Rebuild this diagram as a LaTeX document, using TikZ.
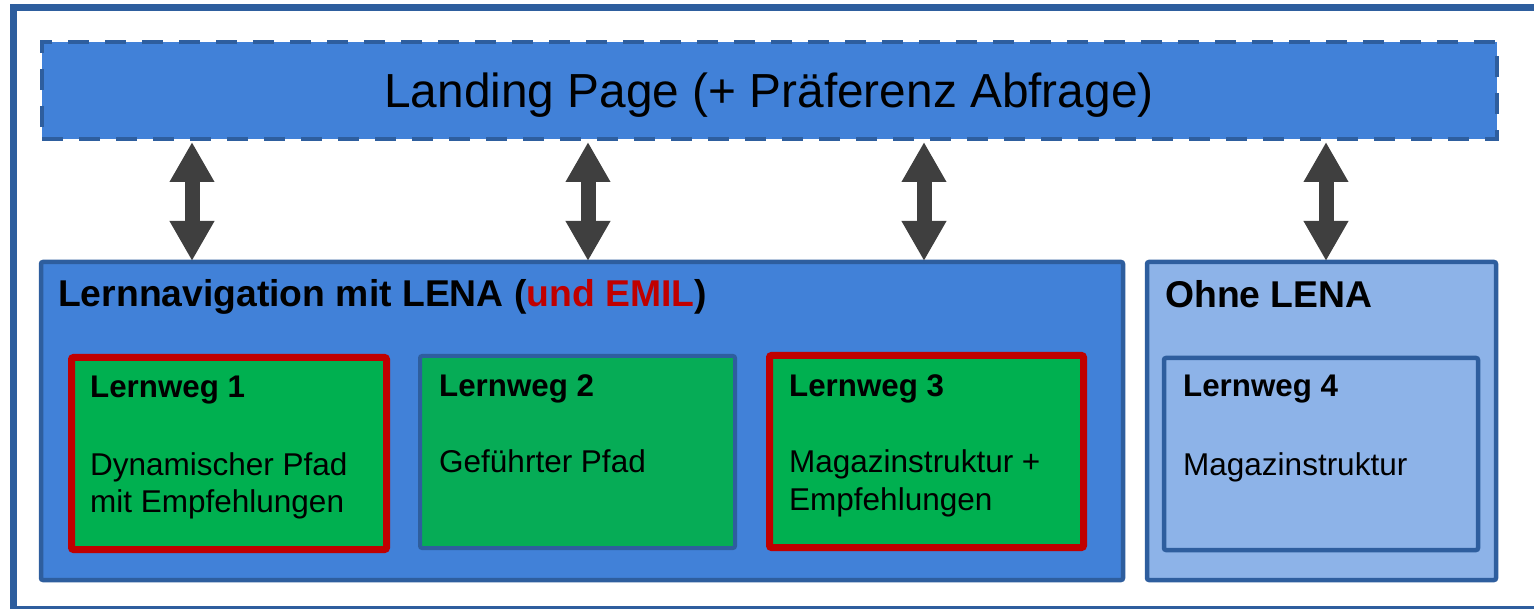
\documentclass[tikz,border=0pt]{standalone}
\usepackage{fontspec}
\setmainfont{Liberation Sans}
\usetikzlibrary{arrows.meta}
\definecolor{frameblue}{HTML}{2E5E9E}
\definecolor{midblue}{HTML}{4181D8}
\definecolor{lightblue}{HTML}{8DB3E8}
\definecolor{lwgreen}{HTML}{00B050}
\definecolor{lwgreenb}{HTML}{06AC56}
\definecolor{lwred}{HTML}{C00000}
\definecolor{arrowgray}{HTML}{3F3F3F}
\tikzset{
  box/.style={anchor=north west, inner sep=0pt, outer sep=0pt, rounded corners=2pt},
  txt/.style={anchor=base west, inner sep=0pt, text=black},
  bigtitle/.style={txt, font=\fontsize{47.8}{56}\selectfont},
  grouptitle/.style={txt, font=\fontsize{37.3}{42}\selectfont\bfseries},
  lwtitle/.style={txt, font=\fontsize{31.3}{37}\selectfont\bfseries},
  lwbody/.style={txt, font=\fontsize{31.5}{37}\selectfont, align=left},
  bigarrow/.style={draw=arrowgray, line width=15pt,
    {Triangle[width=42pt,length=40pt]}-{Triangle[width=42pt,length=40pt]}}
}
\begin{document}
\begin{tikzpicture}[x=1pt,y=-1pt]
\useasboundingbox (0,0) rectangle (1534,609);
% outer frame
\draw[frameblue, line width=6.5pt] (13.5,7.5) rectangle (1545,609);
% landing page
\node[box, rounded corners=0pt, draw=frameblue, fill=midblue, line width=4.5pt,
  dash pattern=on 21pt off 16pt, minimum width=1455pt, minimum height=97pt]
  (landing) at (42,42) {};
\node[bigtitle, anchor=base] (landingtxt) at (769,108) {Landing Page (+ Präferenz Abfrage)};
% group boxes
\node[box, draw=frameblue, fill=midblue, line width=4.5pt,
  minimum width=1082pt, minimum height=318pt] (lena) at (41,262) {};
\node[box, draw=frameblue, fill=lightblue, line width=4.5pt,
  minimum width=349pt, minimum height=318pt] (ohne) at (1147,262) {};
\node[grouptitle] (lenatxt) at (58,307) {Lernnavigation mit LENA (\textcolor{lwred}{und EMIL})};
\node[grouptitle] (ohnetxt) at (1165,308) {Ohne LENA};
% Lernweg boxes
\node[box, draw=lwred, fill=lwgreen, line width=7pt,
  minimum width=315pt, minimum height=192pt] (lw1) at (71.5,357.5) {};
\node[box, draw=frameblue, fill=lwgreenb, line width=4pt,
  minimum width=315pt, minimum height=192pt] (lw2) at (420,356) {};
\node[box, draw=lwred, fill=lwgreen, line width=7pt,
  minimum width=314pt, minimum height=192pt] (lw3) at (769.5,355.5) {};
\node[box, draw=frameblue, fill=lightblue, line width=4.5pt,
  minimum width=314pt, minimum height=192pt] (lw4) at (1164,358) {};
% texts
\node[lwtitle] (lw1t) at (90,398) {Lernweg 1};
\node[lwbody] (lw1b1) at (90,475) {Dynamischer Pfad};
\node[lwbody] (lw1b2) at (90,512) {mit Empfehlungen};
\node[lwtitle] (lw2t) at (439,397) {Lernweg 2};
\node[lwbody] (lw2b1) at (439,472) {Geführter Pfad};
\node[lwtitle] (lw3t) at (789,397) {Lernweg 3};
\node[lwbody] (lw3b1) at (789,472) {Magazinstruktur +};
\node[lwbody] (lw3b2) at (789,510) {Empfehlungen};
\node[lwtitle] (lw4t) at (1183,397) {Lernweg 4};
\node[lwbody] (lw4b1) at (1183,475) {Magazinstruktur};
% arrows
\coordinate (a1t) at (192,142); \coordinate (a1b) at (192,261);
\coordinate (a2t) at (588,142); \coordinate (a2b) at (588,261);
\coordinate (a3t) at (924,142); \coordinate (a3b) at (924,261);
\coordinate (a4t) at (1326,142); \coordinate (a4b) at (1326,261);
\draw[bigarrow] (a1t) -- (a1b);
\draw[bigarrow] (a2t) -- (a2b);
\draw[bigarrow] (a3t) -- (a3b);
\draw[bigarrow] (a4t) -- (a4b);
\end{tikzpicture}
\end{document}
